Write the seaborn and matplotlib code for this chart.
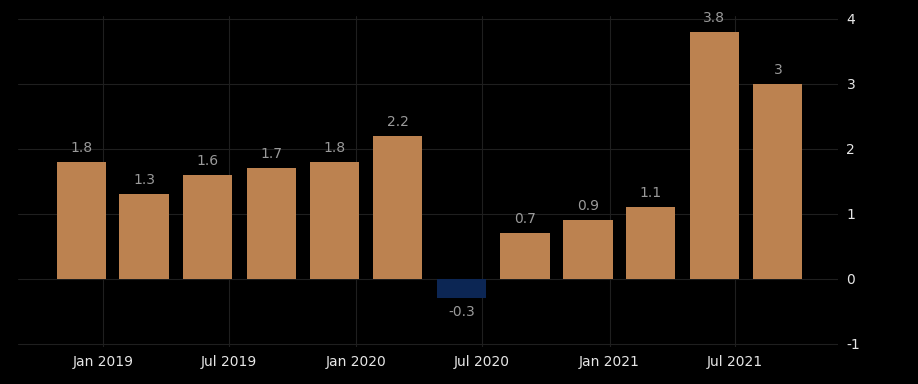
import pandas as pd
import matplotlib
matplotlib.use("Agg")
import matplotlib.pyplot as plt
import matplotlib.dates as mdates
import seaborn as sns

# ── Data ─────────────────────────────────────────────────────────────────────
QUARTERS = ["2018-12-01", "2019-03-01", "2019-06-01", "2019-09-01",
            "2019-12-01", "2020-03-01", "2020-06-01", "2020-09-01",
            "2020-12-01", "2021-03-01", "2021-06-01", "2021-09-01"]
VALUES = [1.8, 1.3, 1.6, 1.7, 1.8, 2.2, -0.3, 0.7, 0.9, 1.1, 3.8, 3.0]
Y_TICKS = [-1, 0, 1, 2, 3, 4]

# ── Style ────────────────────────────────────────────────────────────────────
BG = "#000000"
POS_COLOR = "#BC8250"
NEG_COLOR = "#0C2654"
GRID = "#1f1f1f"

df = pd.DataFrame({"date": pd.to_datetime(QUARTERS), "value": VALUES})
df["x"] = mdates.date2num(df["date"])
df["sign"] = ["neg" if v < 0 else "pos" for v in df["value"]]

sns.set_theme(style="dark")
plt.rcParams["font.family"] = ["DejaVu Sans"]
plt.rcParams["axes.unicode_minus"] = False

fig, ax = plt.subplots(figsize=(9.18, 3.84), dpi=100)
fig.patch.set_facecolor(BG)
ax.set_facecolor(BG)

sns.barplot(data=df, x="x", y="value", hue="sign", native_scale=True,
            palette={"pos": POS_COLOR, "neg": NEG_COLOR}, dodge=False,
            width=0.79, legend=False, ax=ax, saturation=1, linewidth=0)

for cont in ax.containers:
    ax.bar_label(cont, fmt=lambda v: f"{v:g}", padding=5,
                 color="#9a9a9a", fontsize=10)

ax.set_xlim(mdates.date2num(pd.Timestamp("2018-08-31")),
            mdates.date2num(pd.Timestamp("2021-11-27")))
ax.set_ylim(-1.05, 4.05)
ax.set_yticks(Y_TICKS)
ax.yaxis.tick_right()
ax.xaxis.set_major_locator(mdates.MonthLocator(bymonth=[1, 7]))
ax.xaxis.set_major_formatter(mdates.DateFormatter("%b %Y"))
ax.tick_params(axis="both", length=0, colors="#e6e6e6", labelsize=10)
ax.tick_params(axis="y", pad=6)
ax.tick_params(axis="x", pad=6)
ax.grid(True, color=GRID, linewidth=0.8)
ax.set_axisbelow(True)
ax.set_xlabel("")
ax.set_ylabel("")
for s in ax.spines.values():
    s.set_visible(False)

fig.subplots_adjust(left=0.0196, right=0.913, top=0.959, bottom=0.096)
fig.savefig("out.png", facecolor=BG)
